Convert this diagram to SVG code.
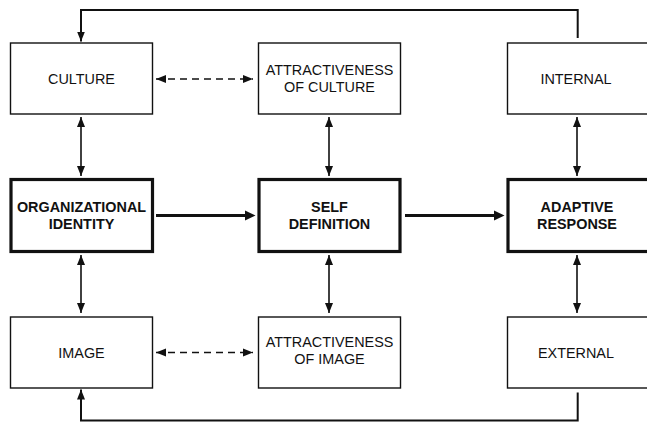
<svg xmlns="http://www.w3.org/2000/svg" width="647" height="422" viewBox="0 0 647 422">
<style>
.box{fill:#fff;stroke:#111;stroke-width:1.4}
.bold{fill:#fff;stroke:#111;stroke-width:3.2}
.t{font-family:"Liberation Sans",Arial,sans-serif;font-size:14.4px;fill:#111;text-anchor:middle}
.tb{font-family:"Liberation Sans",Arial,sans-serif;font-size:14.4px;font-weight:bold;fill:#111;text-anchor:middle}
.ln{fill:none;stroke:#111;stroke-width:1.6}
.dash{fill:none;stroke:#111;stroke-width:1.6;stroke-dasharray:7,5}
.thick{fill:none;stroke:#111;stroke-width:3.2}
.fb{fill:none;stroke:#111;stroke-width:2}
</style>
<defs>
<marker id="ah" markerUnits="userSpaceOnUse" markerWidth="10" markerHeight="10" viewBox="0 0 10 10" refX="10" refY="5" orient="auto-start-reverse">
<path d="M0,1 L10,5 L0,9 Z" fill="#111"/>
</marker>
</defs>
<g id="connectors">
<path class="fb" d="M577.7,38 V10 H81 V41.5" marker-end="url(#ah)"/>
<path class="fb" d="M577.7,392.5 V420.5 H81 V389.5" marker-end="url(#ah)"/>
<line class="ln" x1="81" y1="117" x2="81" y2="176" marker-start="url(#ah)" marker-end="url(#ah)"/>
<line class="ln" x1="329" y1="117" x2="329" y2="176" marker-start="url(#ah)" marker-end="url(#ah)"/>
<line class="ln" x1="577" y1="117" x2="577" y2="176" marker-start="url(#ah)" marker-end="url(#ah)"/>
<line class="ln" x1="81" y1="255" x2="81" y2="313" marker-start="url(#ah)" marker-end="url(#ah)"/>
<line class="ln" x1="329" y1="255" x2="329" y2="313" marker-start="url(#ah)" marker-end="url(#ah)"/>
<line class="ln" x1="577" y1="255" x2="577" y2="313" marker-start="url(#ah)" marker-end="url(#ah)"/>
<line class="dash" x1="156" y1="79" x2="253" y2="79" marker-start="url(#ah)" marker-end="url(#ah)"/>
<line class="dash" x1="156" y1="352.5" x2="253" y2="352.5" marker-start="url(#ah)" marker-end="url(#ah)"/>
<line class="thick" x1="156" y1="215.5" x2="250" y2="215.5"/>
<path d="M245,210.5 L255.5,215.5 L245,220.5 Z" fill="#111"/>
<line class="thick" x1="405" y1="215.5" x2="499" y2="215.5"/>
<path d="M494,210.5 L504.5,215.5 L494,220.5 Z" fill="#111"/>
</g>
<g id="culture"><rect class="box" x="10.5" y="43" width="142" height="71"/><text class="t" x="81.5" y="84">CULTURE</text></g>
<g id="attr-culture"><rect class="box" x="258.5" y="43" width="142" height="71"/><text class="t" x="329.5" y="75">ATTRACTIVENESS</text><text class="t" x="329.5" y="92">OF CULTURE</text></g>
<g id="internal"><rect class="box" x="507.5" y="43" width="142" height="71"/><text class="t" x="576" y="84">INTERNAL</text></g>
<g id="org-identity"><rect class="bold" x="11" y="179.5" width="141.5" height="72"/><text class="tb" x="81.5" y="211.5">ORGANIZATIONAL</text><text class="tb" x="81.5" y="229">IDENTITY</text></g>
<g id="self-definition"><rect class="bold" x="259" y="179.5" width="141" height="72"/><text class="tb" x="329.5" y="211.5">SELF</text><text class="tb" x="329.5" y="229">DEFINITION</text></g>
<g id="adaptive-response"><rect class="bold" x="508" y="179.5" width="142" height="72"/><text class="tb" x="577" y="211.5">ADAPTIVE</text><text class="tb" x="577" y="229">RESPONSE</text></g>
<g id="image"><rect class="box" x="10.5" y="317" width="142" height="71"/><text class="t" x="81.5" y="358">IMAGE</text></g>
<g id="attr-image"><rect class="box" x="258.5" y="317" width="142" height="71"/><text class="t" x="329.5" y="346.5">ATTRACTIVENESS</text><text class="t" x="329.5" y="363.5">OF IMAGE</text></g>
<g id="external"><rect class="box" x="507.5" y="317" width="142" height="71"/><text class="t" x="576" y="358">EXTERNAL</text></g>
</svg>
